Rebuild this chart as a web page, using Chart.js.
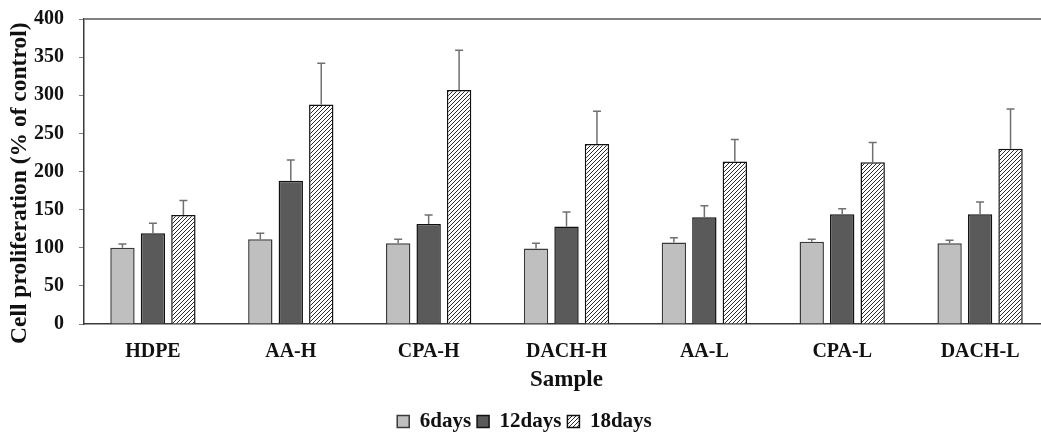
<!DOCTYPE html>
<html>
<head>
<meta charset="utf-8">
<script src="https://cdn.jsdelivr.net/npm/chart.js@4.4.1/dist/chart.umd.min.js"></script>
<style>
  html, body { margin: 0; padding: 0; background: #fff; overflow: hidden; width: 1041px; height: 432px; }
  #wrap { position: absolute; left: 0; top: 0; width: 1056px; height: 432px; }
</style>
</head>
<body>
<div id="wrap"><canvas id="c"></canvas></div>
<script>
const categories = ['HDPE', 'AA-H', 'CPA-H', 'DACH-H', 'AA-L', 'CPA-L', 'DACH-L'];
const seriesNames = ['6days', '12days', '18days'];
const days6  = [100, 111, 106,  99, 107, 108, 106];
const days12 = [119, 188, 131, 128, 140, 144, 144];
const days18 = [143, 288, 307, 236, 213, 212, 230];
const err6  = [5, 8, 5, 7, 6, 3, 4];
const err12 = [13, 27, 12, 19, 15, 7, 16];
const err18 = [19, 54, 52, 43, 29, 26, 52];
const yMin = 0, yMax = 400, yStep = 50;

const FONT = "'Liberation Serif', 'Times New Roman', serif";
const PAD_BOTTOM = -10;

function makeHatch() {
  const c = document.createElement('canvas');
  c.width = 4; c.height = 4;
  const g = c.getContext('2d');
  g.fillStyle = '#ffffff';
  g.fillRect(0, 0, 4, 4);
  g.strokeStyle = '#2a2a2a';
  g.lineWidth = 1;
  g.beginPath();
  g.moveTo(-1, 5); g.lineTo(5, -1);
  g.moveTo(-1, 1); g.lineTo(1, -1);
  g.moveTo(3, 5); g.lineTo(5, 3);
  g.stroke();
  return g.createPattern(c, 'repeat');
}
const hatch = makeHatch();

const errorBars = {
  id: 'errorBars',
  afterDatasetsDraw(chart) {
    const ctx = chart.ctx;
    const y = chart.scales.y;
    ctx.save();
    chart.data.datasets.forEach((ds, i) => {
      const meta = chart.getDatasetMeta(i);
      meta.data.forEach((bar, j) => {
        const top = y.getPixelForValue(ds.data[j] + ds.errors[j]);
        ctx.strokeStyle = '#707070';
        ctx.lineWidth = 1.5;
        ctx.beginPath();
        ctx.moveTo(bar.x, bar.y);
        ctx.lineTo(bar.x, top);
        ctx.moveTo(bar.x - 4, top);
        ctx.lineTo(bar.x + 4, top);
        ctx.stroke();
      });
    });
    ctx.restore();
  }
};

const topBorder = {
  id: 'topBorder',
  afterDraw(chart) {
    const a = chart.chartArea, ctx = chart.ctx;
    ctx.save();
    ctx.strokeStyle = '#808080';
    ctx.lineWidth = 2;
    ctx.beginPath();
    ctx.moveTo(a.left, a.top);
    ctx.lineTo(a.right + 10, a.top);
    ctx.stroke();
    ctx.restore();
  }
};

new Chart(document.getElementById('c'), {
  type: 'bar',
  data: {
    labels: categories,
    datasets: [
      { label: seriesNames[0], data: days6, errors: err6, backgroundColor: '#bfbfbf', borderColor: '#3a3a3a', borderWidth: 1.5 },
      { label: seriesNames[1], data: days12, errors: err12, backgroundColor: '#5a5a5a', borderColor: '#111', borderWidth: 1.5 },
      { label: seriesNames[2], data: days18, errors: err18, backgroundColor: hatch, borderColor: '#111', borderWidth: 1.5 }
    ]
  },
  plugins: [errorBars, topBorder],
  options: {
    responsive: true,
    maintainAspectRatio: false,
    animation: false,
    devicePixelRatio: 1,
    layout: { padding: { top: 19, right: 7, left: 0, bottom: PAD_BOTTOM } },
    datasets: { bar: { categoryPercentage: 0.663, barPercentage: 0.8 } },
    plugins: {
      tooltip: { enabled: false },
      legend: {
        position: 'bottom',
        labels: {
          color: '#111',
          font: { family: FONT, size: 21, weight: 'bold' },
          boxWidth: 12, boxHeight: 12, padding: 6
        }
      }
    },
    scales: {
      x: {
        grid: { display: false },
        border: { display: true, color: '#3a3a3a', width: 1.5 },
        ticks: { color: '#111', font: { family: FONT, size: 20, weight: 'bold' }, padding: 8 },
        title: { display: true, text: 'Sample', color: '#111', font: { family: FONT, size: 23, weight: 'bold' }, padding: { top: 0, bottom: 11 } },
        afterFit(scale) { scale.height = 432 - 324 - scale.chart.legend.height - PAD_BOTTOM; }
      },
      y: {
        min: yMin, max: yMax,
        grid: { display: true, drawOnChartArea: false, drawTicks: true, tickLength: 5, color: '#808080' },
        border: { display: true, color: '#3a3a3a', width: 1.5 },
        ticks: { stepSize: yStep, color: '#111', font: { family: FONT, size: 20, weight: 'bold' }, padding: 15 },
        title: { display: true, text: 'Cell proliferation (% of control)    ', color: '#111', font: { family: FONT, size: 23.5, weight: 'bold' }, padding: { top: 6, bottom: 0 } },
        afterFit(scale) { scale.width = 84; scale.paddingTop = 0; scale.paddingBottom = 0; }
      }
    }
  }
});
</script>
</body>
</html>
